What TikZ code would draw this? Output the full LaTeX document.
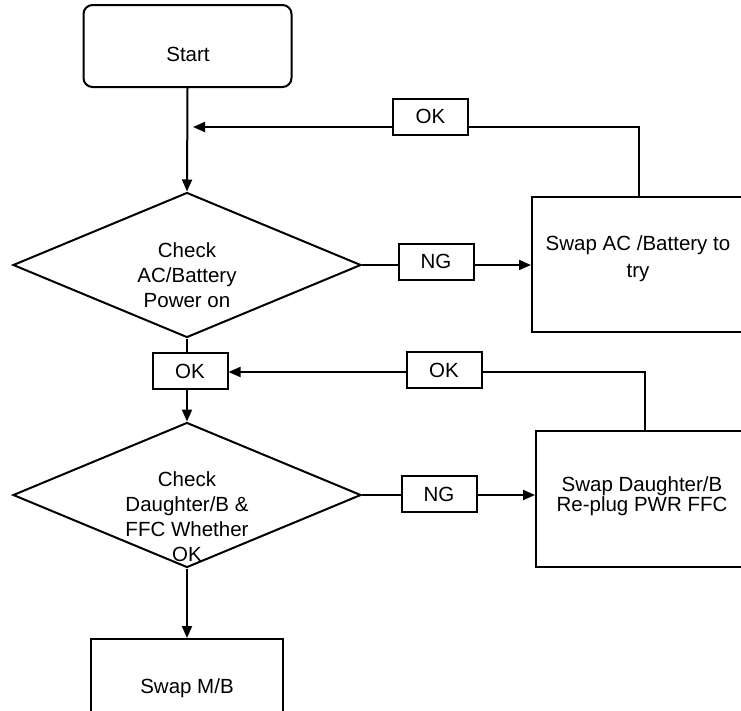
\documentclass[tikz,border=0pt]{standalone}
\usepackage{fontspec}
\setmainfont{Liberation Sans}
\usetikzlibrary{positioning, arrows.meta, shapes.geometric}

\begin{document}
\begin{tikzpicture}[x=1pt, y=-1pt, line width=2pt,
  every node/.style={font=\fontsize{20.5}{25}\selectfont, align=center, inner sep=0pt},
  tag/.style={draw, minimum width=75pt, minimum height=36pt},
  chk/.style={draw, diamond, aspect=2.4, minimum width=348pt, minimum height=145pt},
  flow/.style={-{Triangle[length=12pt, width=10pt]}}]
  \useasboundingbox (0,0) rectangle (741,710);
  \clip (0,0) rectangle (741,710);
  \draw
    (187.5,46) node[draw, rounded corners=9pt, minimum width=208pt, minimum height=82pt] (start){}
    (187,265) node[chk] (chk1){}
    (187,495) node[chk] (chk2){}
    (638.5,264.5) node[draw, minimum width=213pt, minimum height=135pt] (swapac){}
    (640.5,499) node[draw, minimum width=209pt, minimum height=136pt] (swapdb){}
    (187,677) node[draw, minimum width=192pt, minimum height=76pt] (swapmb){}
    (430.5,116.5) node[tag] (ok1){OK}
    (436,261.5) node[tag] (ng1){NG}
    (190,371) node[tag] (ok2){OK}
    (444,370) node[tag] (ok3){OK}
    (439,494) node[tag] (ng2){NG};
  % texts
  \node at (188,54) {Start};
  \node at (187,275) {Check\\AC/Battery\\Power on};
  \node at (187,517) {Check\\Daughter/B \&\\FFC Whether\\OK};
  \node[font=\fontsize{20.5}{27}\selectfont] at (638,259) {Swap AC /Battery to\\try};
  \node[font=\fontsize{20.5}{20.5}\selectfont] at (642,496) {Swap Daughter/B\\Re-plug PWR FFC};
  \node at (187,688) {Swap M/B};
  \coordinate (back1) at (193,127);
  % connectors
  \begin{scope}[-]
    \draw[flow] (start.south) -- (chk1.north);
    \draw (chk1.east) -- (ng1.west |- chk1.east);
    \draw[flow] (ng1.east |- chk1.east) -- (swapac.west |- chk1.east);
    \draw (swapac.north -| 639,0) |- (ok1.east |- back1);
    \draw[flow] (ok1.west |- back1) -- (back1);
    \draw (chk1.south) -- (ok2.north -| chk1.south);
    \draw[flow] (ok2.south -| chk1.south) -- (chk2.north);
    \draw (swapdb.north -| 645,0) |- (ok3.east |- 0,372);
    \draw[flow] (ok3.west |- 0,372) -- (ok2.east |- 0,372);
    \draw (chk2.east) -- (ng2.west |- chk2.east);
    \draw[flow] (ng2.east |- chk2.east) -- (swapdb.west |- chk2.east);
    \draw[flow] (chk2.south) -- (swapmb.north -| chk2.south);
  \end{scope}
\end{tikzpicture}
\end{document}
